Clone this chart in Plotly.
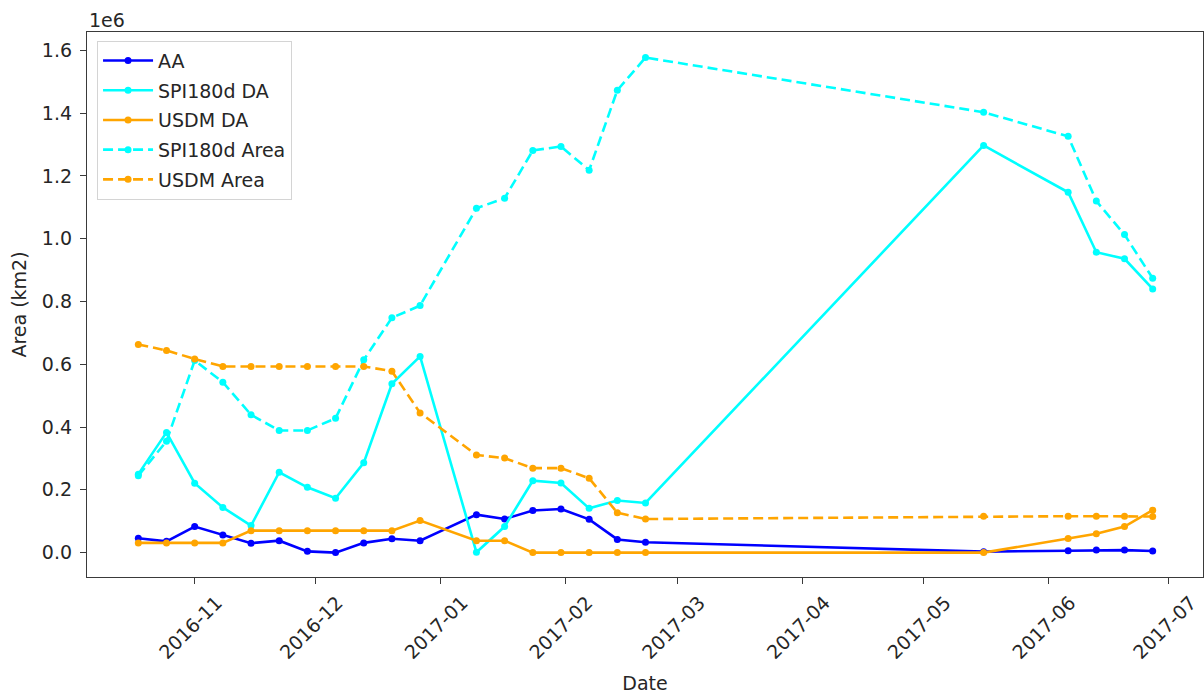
import plotly.graph_objects as go

# Weekly observation dates
dates = [
    "2016-10-18", "2016-10-25", "2016-11-01", "2016-11-08", "2016-11-15",
    "2016-11-22", "2016-11-29", "2016-12-06", "2016-12-13", "2016-12-20",
    "2016-12-27", "2017-01-10", "2017-01-17", "2017-01-24", "2017-01-31",
    "2017-02-07", "2017-02-14", "2017-02-21", "2017-05-16", "2017-06-06",
    "2017-06-13", "2017-06-20", "2017-06-27",
]

# Areas in km2
aa = [45700, 36000, 83000, 56000, 30000, 38000, 4000, 0, 31000, 44000, 38000,
      121000, 107000, 134000, 139000, 106000, 42000, 33000, 3000, 6000, 8000,
      8000, 5000]
spi180d_da = [250000, 383000, 221000, 144000, 86000, 256000, 208000, 173000,
              286000, 538000, 625000, 1000, 83000, 229000, 222000, 141000,
              166000, 158000, 1297000, 1148000, 957000, 936000, 840000]
usdm_da = [31000, 31000, 31000, 31000, 70000, 70000, 70000, 70000, 70000,
           70000, 102000, 38000, 38000, 0, 0, 0, 0, 0, 0, 45000, 60000, 83000,
           135000]
spi180d_area = [245000, 355000, 612000, 543000, 439000, 389000, 389000,
                428000, 614000, 748000, 787000, 1097000, 1129000, 1281000,
                1294000, 1218000, 1473000, 1577000, 1403000, 1326000, 1120000,
                1013000, 874000]
usdm_area = [663000, 644000, 617000, 593000, 593000, 593000, 593000, 593000,
             593000, 578000, 445000, 311000, 301000, 269000, 269000, 237000,
             127000, 107000, 116000, 116000, 116000, 116000, 115000]

y_ticks = [0, 200000, 400000, 600000, 800000, 1000000, 1200000, 1400000, 1600000]
y_tick_labels = ["0.0", "0.2", "0.4", "0.6", "0.8", "1.0", "1.2", "1.4", "1.6"]

FONT = "DejaVu Sans"
TXT = "#262626"

series = [
    ("AA", aa, "#0000ff", "solid"),
    ("SPI180d DA", spi180d_da, "#00ffff", "solid"),
    ("USDM DA", usdm_da, "#ffa500", "solid"),
    ("SPI180d Area", spi180d_area, "#00ffff", "10px,5px"),
    ("USDM Area", usdm_area, "#ffa500", "10px,5px"),
]

fig = go.Figure()
for name, vals, color, dash in series:
    fig.add_trace(go.Scatter(
        x=dates, y=vals, name=name, mode="lines+markers",
        legendgroup=name,
        line=dict(color=color, width=2.6, dash=dash),
        marker=dict(color=color, size=7),
    ))

axis_common = dict(
    showline=True, mirror=True, linecolor="#3a3a3a", linewidth=1.3,
    showgrid=False, zeroline=False, ticks="outside", ticklen=6,
    tickwidth=1.2, tickcolor="#3a3a3a",
    tickfont=dict(family=FONT, size=19, color=TXT),
)

fig.update_layout(
    width=1204, height=694,
    margin=dict(l=87, r=1, t=32, b=117),
    paper_bgcolor="white", plot_bgcolor="white",
    font=dict(family=FONT, size=19, color=TXT),
    showlegend=True,
    legend=dict(
        x=0.009, y=0.984, xanchor="left", yanchor="top",
        bgcolor="rgba(255,255,255,0.8)", bordercolor="#d4d4d4", borderwidth=1,
        font=dict(family=FONT, size=19, color=TXT),
        tracegroupgap=2, itemwidth=50,
    ),
    xaxis=dict(
        **axis_common,
        type="date",
        range=["2016-10-05 06:00", "2017-07-09 12:00"],
        tick0="2016-11-01", dtick="M1", tickformat="%Y-%m",
        tickangle=-45, ticklabelshift=22, ticklabeloverflow="allow",
        title=dict(text="Date", font=dict(family=FONT, size=19, color=TXT),
                   standoff=14),
    ),
    yaxis=dict(
        **axis_common,
        range=[-77700, 1658500],
        tickvals=y_ticks, ticktext=y_tick_labels,
        ticklabelstandoff=4,
        title=dict(text="Area (km2)", font=dict(family=FONT, size=19, color=TXT),
                   standoff=10),
    ),
    annotations=[dict(
        text="1e6", xref="paper", yref="paper", x=0, y=1.0215,
        xanchor="left", yanchor="middle", showarrow=False,
        font=dict(family=FONT, size=19, color=TXT),
    )],
)

fig.write_html("out.html")
